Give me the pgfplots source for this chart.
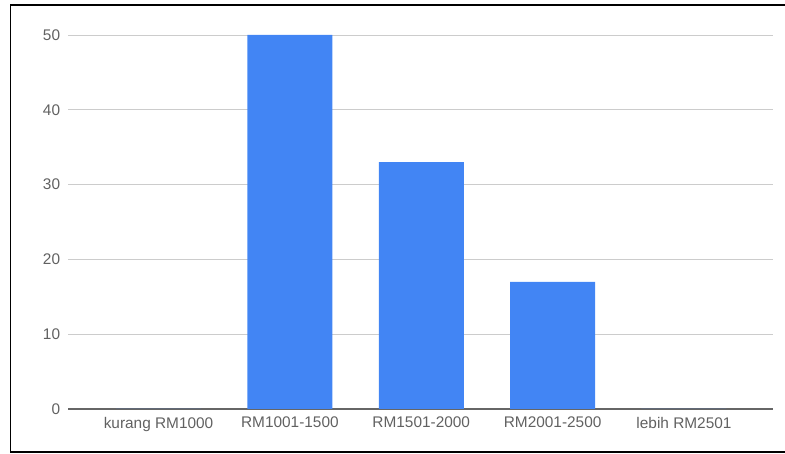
\documentclass[border=0pt]{standalone}
\usepackage{pgfplots}
\pgfplotsset{compat=1.18}
\usepackage{fontspec}
\setmainfont{Liberation Sans}
\definecolor{barblue}{HTML}{4285F4}
\definecolor{ticktext}{HTML}{616161}
\definecolor{gridgray}{HTML}{CCCCCC}
\definecolor{axisgray}{HTML}{666666}
\begin{document}
\begin{tikzpicture}
\useasboundingbox (0pt,0pt) rectangle (785pt,454pt);
\draw[line width=1.5pt] (785pt,449pt) -- (10.5pt,449pt) -- (10.5pt,2pt) -- (785pt,2pt);
\begin{axis}[
  at={(68.3pt,45pt)}, anchor=south west,
  scale only axis, width=705pt, height=374pt,
  xmin=-0.687, xmax=4.68, ymin=0, ymax=50,
  xtick={0,1,2,3,4},
  xticklabels={kurang RM1000, RM1001-1500, RM1501-2000, RM2001-2500, lebih RM2501},
  ytick={0,10,20,30,40,50},
  axis x line=bottom, axis y line=left,
  x axis line style={-, draw=axisgray, line width=1.2pt},
  y axis line style={draw=none},
  major tick length=0pt,
  ymajorgrids, grid style={gridgray, line width=0.9pt},
  tick label style={font=\fontsize{15.4}{18}\selectfont, text=ticktext},
  yticklabel style={inner sep=0pt, xshift=-8pt},
  xticklabel style={inner sep=0pt, yshift=-8pt},
  /pgf/number format/assume math mode=true,
  ybar, bar width=85pt,
]
\addplot[fill=barblue, draw=none] coordinates {(0,0) (1,50) (2,33) (3,17) (4,0)};
\end{axis}
\end{tikzpicture}
\end{document}
